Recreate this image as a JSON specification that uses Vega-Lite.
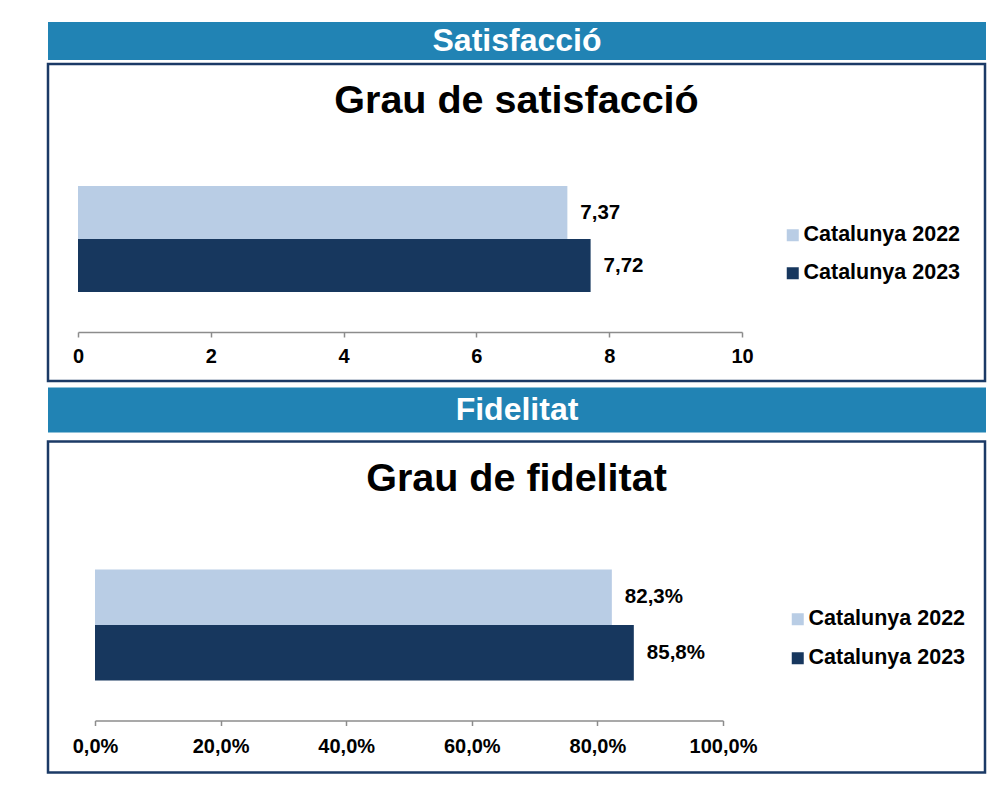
{
  "$schema": "https://vega.github.io/schema/vega-lite/v6.json",
  "padding": {"left": 46, "top": 22, "right": 0, "bottom": 0},
  "background": "white",
  "config": {
    "locale": {"number": {"decimal": ",", "thousands": ".", "grouping": [3], "currency": ["", " €"]}},
    "font": "Liberation Sans"
  },
  "datasets": {
    "sat": [
      {"serie": "Catalunya 2022", "valor": 7.37},
      {"serie": "Catalunya 2023", "valor": 7.72}
    ],
    "fid": [
      {"serie": "Catalunya 2022", "valor": 0.823},
      {"serie": "Catalunya 2023", "valor": 0.858}
    ]
  },
  "spacing": 4.5,
  "resolve": {"scale": {"color": "independent", "x": "independent", "y": "independent"}, "legend": {"color": "independent"}},
  "vconcat": [
    {
      "spacing": 2,
      "resolve": {"scale": {"color": "independent", "x": "independent", "y": "independent"}, "legend": {"color": "independent"}},
      "vconcat": [
        {
          "width": 938, "height": 38,
          "view": {"fill": "#2183B4", "stroke": null},
          "data": {"values": [{"t": "Satisfacció"}]},
          "mark": {"type": "text", "color": "white", "fontSize": 32, "baseline": "middle", "font": "Liberation Sans", "fontWeight": "bold"},
          "encoding": {"text": {"field": "t", "type": "nominal"}}
        },
        {
          "width": 937, "height": 317,
          "view": {"stroke": "#1B3A66", "strokeWidth": 2.5, "fill": "white"},
          "title": {"text": "Grau de satisfacció", "fontSize": 39.5, "font": "Liberation Sans", "fontWeight": "bold", "color": "black", "anchor": "middle", "baseline": "alphabetic", "offset": -88},
          "data": {"name": "sat"},
          "encoding": {
            "y": {"field": "serie", "type": "nominal", "sort": ["Catalunya 2022", "Catalunya 2023"], "scale": {"range": [122, 228], "paddingInner": 0, "paddingOuter": 0}, "axis": null},
            "x": {"field": "valor", "type": "quantitative", "scale": {"domain": [0, 10], "range": [30, 694], "nice": false},
              "axis": {"values": [0, 2, 4, 6, 8, 10], "offset": -49, "grid": false, "domainColor": "#8C8C8C", "domainWidth": 1.5, "tickColor": "#8C8C8C", "tickWidth": 1.5, "tickSize": 5, "labelFont": "Liberation Sans", "labelFontWeight": "bold", "labelFontSize": 20, "labelColor": "black", "labelPadding": 9, "title": null, "labelFlush": false}}
          },
          "layer": [
            {
              "mark": {"type": "bar"},
              "encoding": {
                "color": {"field": "serie", "type": "nominal", "scale": {"domain": ["Catalunya 2022", "Catalunya 2023"], "range": ["#B9CDE5", "#17375E"]},
                  "legend": {"orient": "none", "legendX": 734, "legendY": 160.5, "title": null, "symbolType": "square", "symbolSize": 144, "symbolStrokeWidth": 0, "labelFont": "Liberation Sans", "labelFontWeight": "bold", "labelFontSize": 21.5, "labelColor": "black", "labelOffset": 0, "rowPadding": 15, "padding": 0}}
              }
            },
            {
              "mark": {"type": "text", "align": "left", "dx": 13, "baseline": "middle", "fontSize": 20.5, "font": "Liberation Sans", "fontWeight": "bold", "color": "black"},
              "encoding": {"text": {"field": "valor", "type": "quantitative", "format": ".2f"}}
            }
          ]
        }
      ]
    },
    {
      "spacing": 7,
      "resolve": {"scale": {"color": "independent", "x": "independent", "y": "independent"}, "legend": {"color": "independent"}},
      "vconcat": [
        {
          "width": 938, "height": 45,
          "view": {"fill": "#2183B4", "stroke": null},
          "data": {"values": [{"t": "Fidelitat"}]},
          "mark": {"type": "text", "color": "white", "fontSize": 32, "baseline": "middle", "font": "Liberation Sans", "fontWeight": "bold"},
          "encoding": {"text": {"field": "t", "type": "nominal"}}
        },
        {
          "width": 937, "height": 331,
          "view": {"stroke": "#1B3A66", "strokeWidth": 2.5, "fill": "white"},
          "title": {"text": "Grau de fidelitat", "fontSize": 39.5, "font": "Liberation Sans", "fontWeight": "bold", "color": "black", "anchor": "middle", "baseline": "alphabetic", "offset": -89},
          "data": {"name": "fid"},
          "encoding": {
            "y": {"field": "serie", "type": "nominal", "sort": ["Catalunya 2022", "Catalunya 2023"], "scale": {"range": [128, 239], "paddingInner": 0, "paddingOuter": 0}, "axis": null},
            "x": {"field": "valor", "type": "quantitative", "scale": {"domain": [0, 1], "range": [47, 675], "nice": false},
              "axis": {"values": [0, 0.2, 0.4, 0.6, 0.8, 1], "format": ".1%", "offset": -52, "grid": false, "domainColor": "#8C8C8C", "domainWidth": 1.5, "tickColor": "#8C8C8C", "tickWidth": 1.5, "tickSize": 5, "labelFont": "Liberation Sans", "labelFontWeight": "bold", "labelFontSize": 20, "labelColor": "black", "labelPadding": 11, "title": null, "labelFlush": false}}
          },
          "layer": [
            {
              "mark": {"type": "bar"},
              "encoding": {
                "color": {"field": "serie", "type": "nominal", "scale": {"domain": ["Catalunya 2022", "Catalunya 2023"], "range": ["#B9CDE5", "#17375E"]},
                  "legend": {"orient": "none", "legendX": 739, "legendY": 167, "title": null, "symbolType": "square", "symbolSize": 144, "symbolStrokeWidth": 0, "labelFont": "Liberation Sans", "labelFontWeight": "bold", "labelFontSize": 21.5, "labelColor": "black", "labelOffset": 0, "rowPadding": 16, "padding": 0}}
              }
            },
            {
              "mark": {"type": "text", "align": "left", "dx": 13, "baseline": "middle", "fontSize": 20.5, "font": "Liberation Sans", "fontWeight": "bold", "color": "black"},
              "encoding": {"text": {"field": "valor", "type": "quantitative", "format": ".1%"}}
            }
          ]
        }
      ]
    }
  ]
}
